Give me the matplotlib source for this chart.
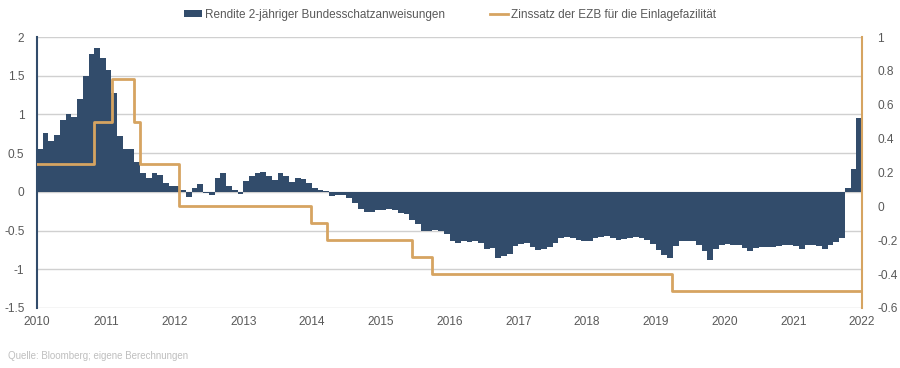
import matplotlib
matplotlib.use("Agg")
import matplotlib.pyplot as plt
from matplotlib.lines import Line2D
from matplotlib.patches import Patch
from matplotlib.ticker import FormatStrFormatter

# monthly 2y Bundesschatz yield, Jan 2010 .. Dec 2021 (left axis, %)
yield_2y = [
    0.55, 0.76, 0.66, 0.74, 0.93, 1.00, 0.97, 1.20, 1.50, 1.78, 1.86, 1.73,
    1.58, 1.28, 0.72, 0.55, 0.55, 0.38, 0.24, 0.18, 0.24, 0.22, 0.12, 0.08,
    0.07, 0.03, -0.07, 0.05, 0.10, -0.02, -0.04, 0.18, 0.24, 0.08, 0.02, -0.03,
    0.14, 0.20, 0.25, 0.26, 0.20, 0.15, 0.24, 0.21, 0.13, 0.18, 0.16, 0.12,
    0.05, 0.03, 0.01, -0.05, -0.04, -0.04, -0.08, -0.15, -0.22, -0.26, -0.26, -0.24,
    -0.23, -0.22, -0.24, -0.27, -0.29, -0.36, -0.42, -0.50, -0.50, -0.49, -0.50, -0.55,
    -0.64, -0.66, -0.64, -0.65, -0.63, -0.66, -0.74, -0.72, -0.85, -0.83, -0.80, -0.70,
    -0.67, -0.66, -0.71, -0.75, -0.74, -0.71, -0.66, -0.60, -0.58, -0.60, -0.62, -0.64,
    -0.63, -0.60, -0.58, -0.57, -0.60, -0.62, -0.61, -0.59, -0.58, -0.59, -0.62, -0.67,
    -0.75, -0.82, -0.86, -0.70, -0.64, -0.63, -0.63, -0.68, -0.77, -0.88, -0.74, -0.69,
    -0.67, -0.68, -0.69, -0.72, -0.76, -0.73, -0.71, -0.71, -0.71, -0.70, -0.69, -0.69,
    -0.70, -0.74, -0.69, -0.69, -0.70, -0.74, -0.69, -0.65, -0.60, 0.05, 0.30, 0.95,
]
months = [2010 + i / 12 for i in range(len(yield_2y))]

# ECB deposit facility rate (right axis, %), change dates as shown on the chart
ezb_dates = [2010.0, 2010.834, 2011.086, 2011.416, 2011.498, 2012.065,
             2013.985, 2014.22, 2015.46, 2015.74, 2019.23, 2022.0]
ezb_rate = [0.25, 0.5, 0.75, 0.5, 0.25, 0.0, -0.1, -0.2, -0.3, -0.4, -0.5, -0.5]

years = list(range(2010, 2023))
left_ticks = [-1.5, -1, -0.5, 0, 0.5, 1, 1.5, 2]
right_ticks = [-0.6, -0.4, -0.2, 0, 0.2, 0.4, 0.6, 0.8, 1]

navy = "#324C6B"
gold = "#D6A461"
grid_c = "#D0D0D0"
text_c = "#595959"

plt.rcParams["font.family"] = ["Liberation Sans", "DejaVu Sans"]
plt.rcParams["axes.unicode_minus"] = False

fig = plt.figure(figsize=(9, 3.68), dpi=100)
ax = fig.add_axes([37 / 900, 60 / 368, 825 / 900, 271 / 368])
ax2 = ax.twinx()

ax.bar(months, yield_2y, width=1 / 12, align="edge", color=navy, linewidth=0, zorder=2)
ax.set_xlim(2010, 2022)
ax.set_ylim(-1.5, 2)
ax.set_yticks(left_ticks)
ax.yaxis.set_major_formatter(FormatStrFormatter("%g"))
ax.set_xticks(years)
ax.set_xticklabels([str(y) for y in years])
ax.grid(axis="y", color=grid_c, linewidth=1, zorder=0)
ax.set_axisbelow(True)

ax2.step(ezb_dates, ezb_rate, where="post", color=gold, linewidth=2, zorder=3)
ax2.set_ylim(-0.6, 1)
ax2.set_yticks(right_ticks)
ax2.yaxis.set_major_formatter(FormatStrFormatter("%g"))

for a in (ax, ax2):
    a.tick_params(length=0, labelsize=8.6, colors=text_c)
    for side in ("top", "bottom", "left", "right"):
        a.spines[side].set_visible(False)
ax.spines["left"].set_visible(True)
ax.spines["left"].set_color(navy)
ax.spines["left"].set_linewidth(1.5)
ax2.spines["right"].set_visible(True)
ax2.spines["right"].set_color(gold)
ax2.spines["right"].set_linewidth(1.5)
ax.tick_params(axis="y", pad=9)
ax2.tick_params(axis="y", pad=11)
ax.tick_params(axis="x", pad=6)

handles = [
    Patch(facecolor=navy, edgecolor="none", label="Rendite 2-jähriger Bundesschatzanweisungen"),
    Line2D([0], [0], color=gold, linewidth=2, label="Zinssatz der EZB für die Einlagefazilität"),
]
fig.legend(handles=handles, loc="center", bbox_to_anchor=(0.5, 1 - 15 / 368), ncol=2,
           frameon=False, fontsize=8.5, labelcolor=text_c, handlelength=1.5,
           handleheight=0.5, columnspacing=3.8, handletextpad=0.3)

fig.text(8 / 900, 1 - 356 / 368, "Quelle: Bloomberg; eigene Berechnungen",
         fontsize=7, color="#BFBFBF", va="center", ha="left")

fig.savefig("out.png", dpi=100)
